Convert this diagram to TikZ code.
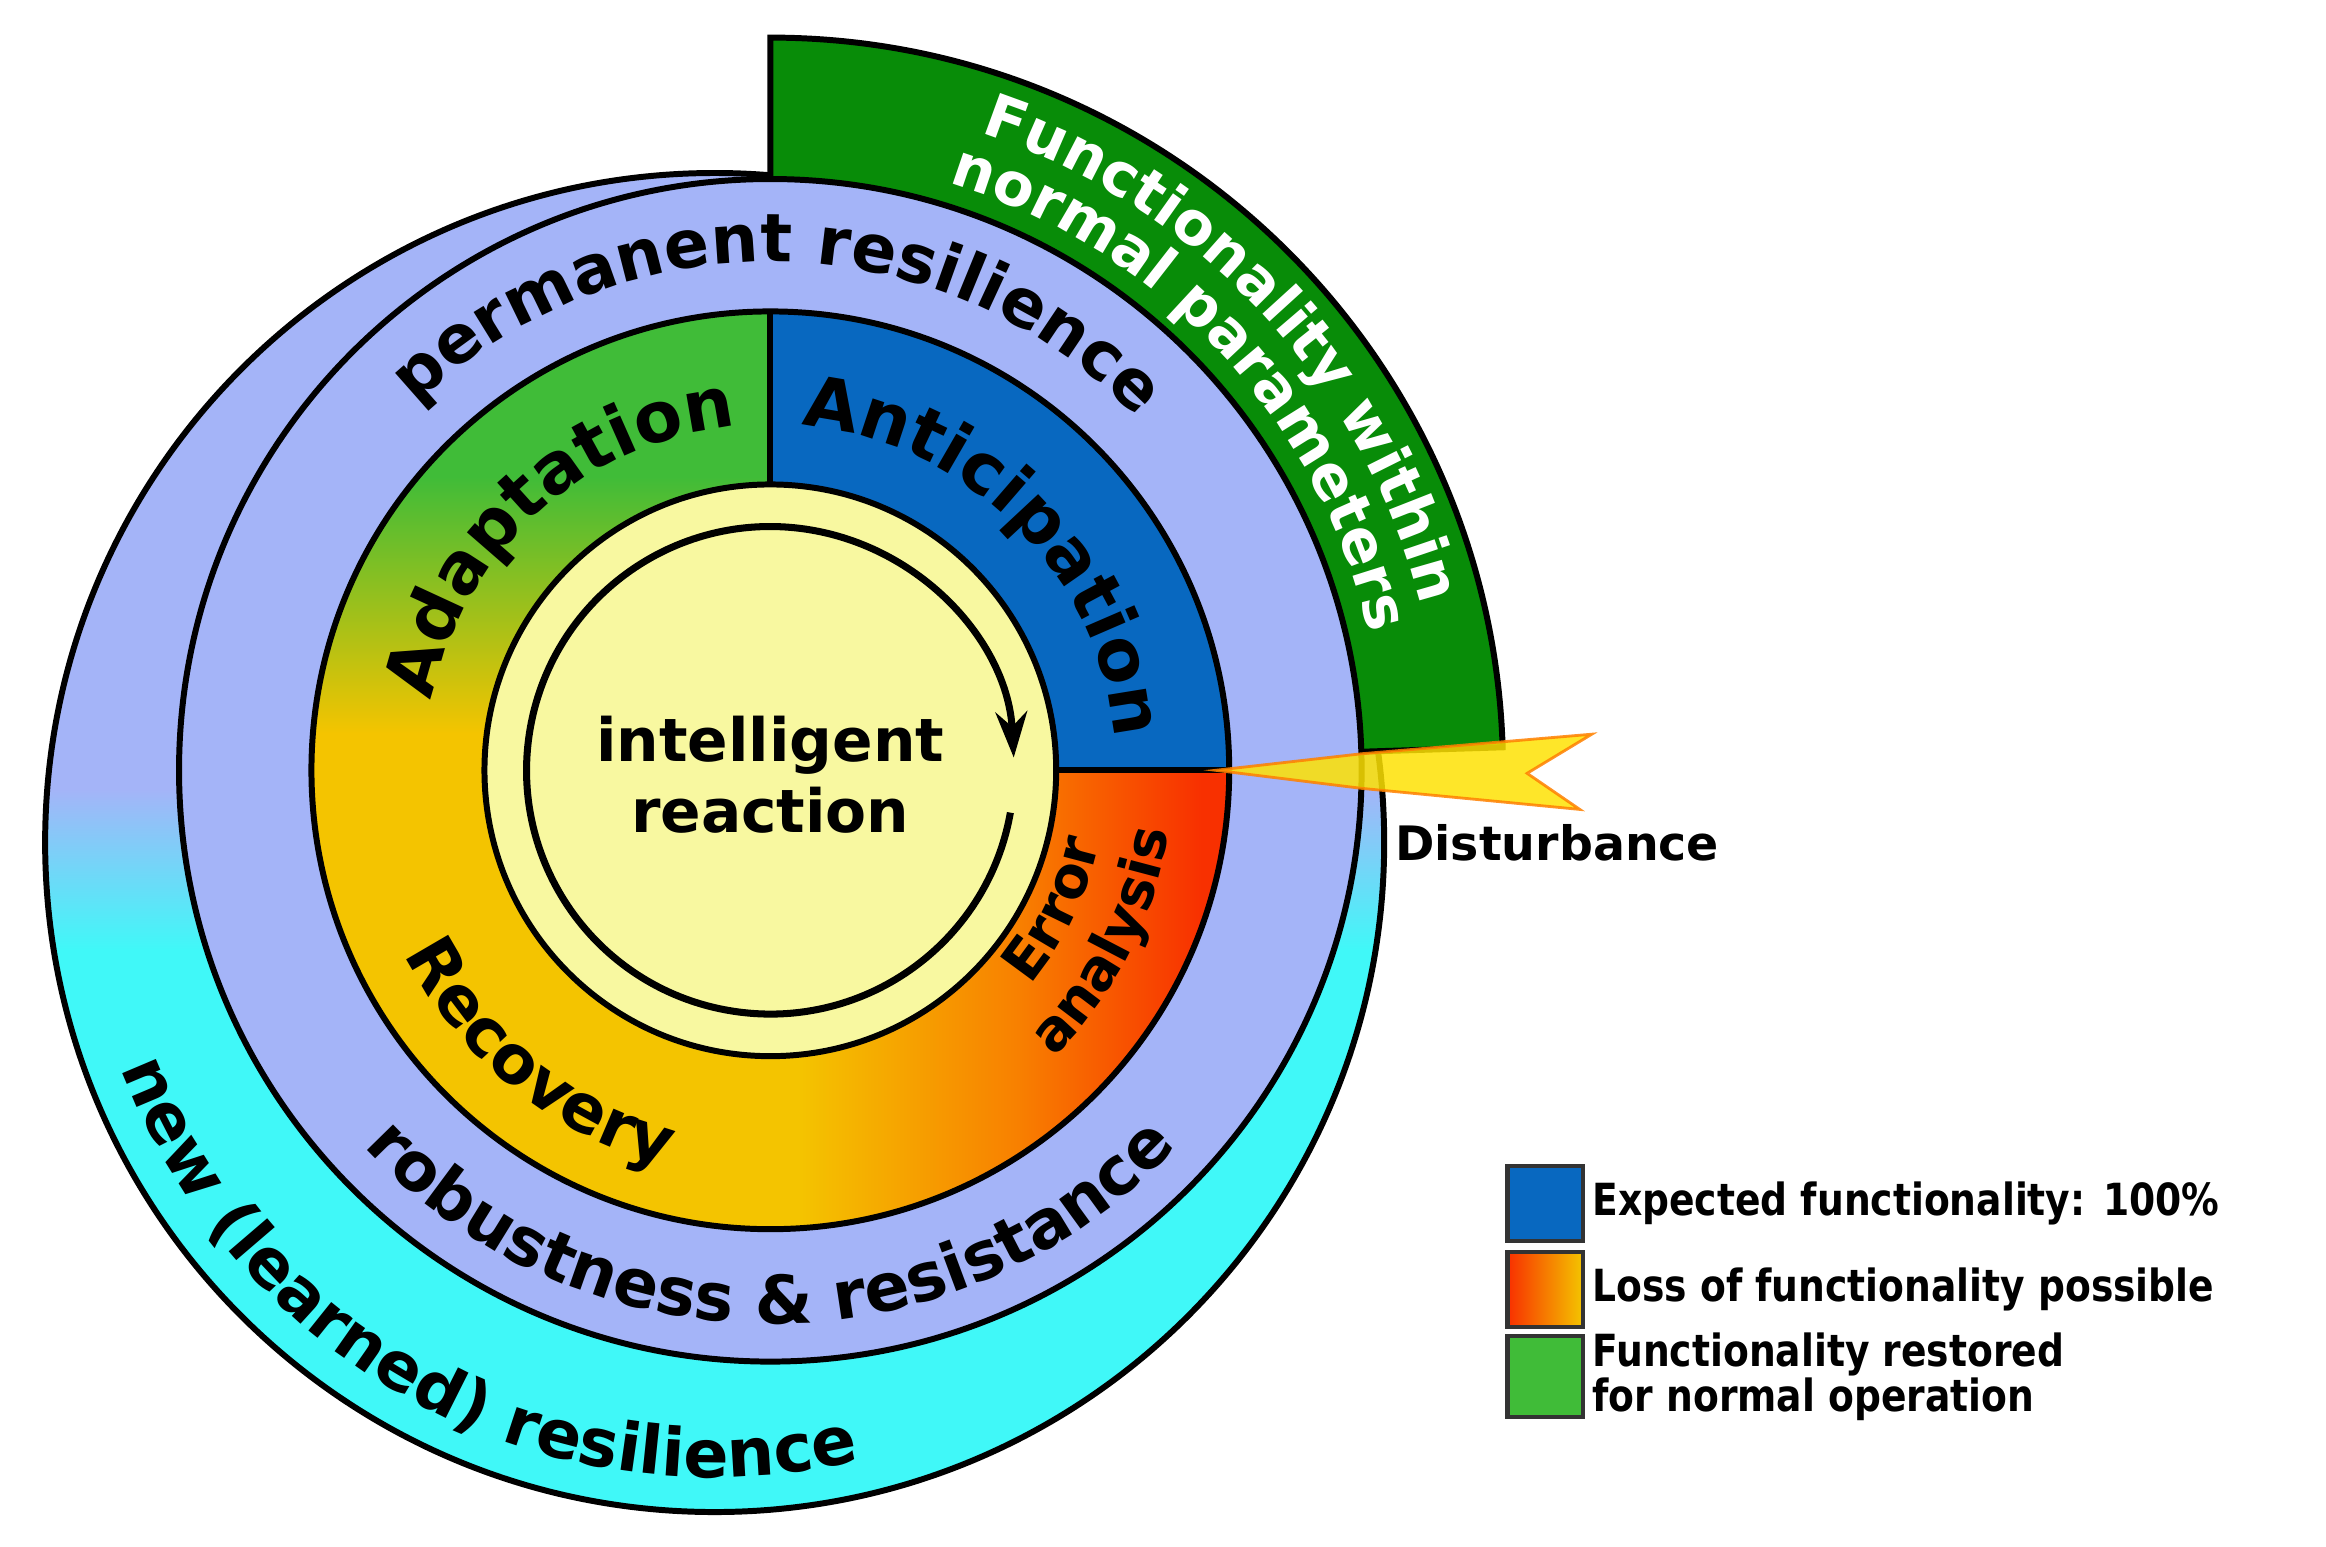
\documentclass[tikz,border=0pt]{standalone}
\usepackage{fontspec}
\setmainfont{DejaVu Sans}
\newfontfamily\condf{DejaVu Sans}[FakeStretch=0.85]
\usetikzlibrary{decorations.text,arrows.meta}
\definecolor{lav}{HTML}{A4B4F8}
\definecolor{cyanc}{HTML}{40F8F8}
\definecolor{gband}{HTML}{088C08}
\definecolor{bluec}{HTML}{0868C0}
\definecolor{yel}{HTML}{F4C400}
\definecolor{yel2}{HTML}{F8B400}
\definecolor{orng}{HTML}{F88000}
\definecolor{redc}{HTML}{F83000}
\definecolor{grn}{HTML}{40BC38}
\definecolor{innerc}{HTML}{F8F8A0}
\pgfdeclareverticalshading{outsh}{100bp}{color(0bp)=(cyanc); color(46bp)=(cyanc); color(52bp)=(lav); color(100bp)=(lav)}
\pgfdeclareverticalshading{greensh}{100bp}{color(0bp)=(yel); color(52bp)=(yel); color(66bp)=(grn); color(100bp)=(grn)}
\pgfdeclarehorizontalshading{redsh}{100bp}{color(0bp)=(yel); color(28bp)=(yel); color(52bp)=(orng); color(72bp)=(redc); color(100bp)=(redc)}
\newcommand{\bigf}{\fontsize{19}{22}\selectfont\bfseries}
\newcommand{\segf}{\fontsize{20}{24}\selectfont\bfseries}
\newcommand{\recf}{\fontsize{19}{23}\selectfont\bfseries}
\newcommand{\errf}{\fontsize{16}{19}\selectfont\bfseries}
\newcommand{\funf}{\fontsize{17}{20}\selectfont\bfseries}
\tikzset{
  outl/.style={draw=black,line width=1.7pt},
  arctext/.style={decorate,decoration={text along path,text align=center,text={#1}}},
  legbox/.style={draw=black!80,line width=1.2pt,minimum width=50*0.15045mm,inner sep=0pt},
  legtext/.style={anchor=west,font=\condf\fontsize{12.6}{13}\selectfont\bfseries,align=left,inner sep=0pt}
}
\begin{document}
\begin{tikzpicture}[x=0.15045mm,y=0.15045mm]
\useasboundingbox (0,0) rectangle (1546,1028);
\coordinate (C) at (512,516);
\coordinate (D) at (475,468);
% outer big circle
\shade[shading=outsh,outl] (D) circle[radius=445];
% green band
\fill[gband,outl] (C) -- ++(90:487) arc[start angle=90,end angle=1.8,radius=487] -- cycle;
% lavender circle
\fill[lav,outl] (C) circle[radius=393];
% middle ring
\fill[yel] (C) circle[radius=305];
\shade[shading=greensh] (C) -- ++(90:305) arc[start angle=90,end angle=270,radius=305] -- cycle;
\shade[shading=redsh] (C) -- ++(270:305) arc[start angle=270,end angle=360,radius=305] -- cycle;
\fill[bluec] (C) -- ++(0:305) arc[start angle=0,end angle=90,radius=305] -- cycle;
\draw[outl] (C) ++(0:305) -- (C) -- ++(90:305);
\draw[outl] (C) circle[radius=305];
% inner circle
\fill[innerc,outl] (C) circle[radius=190];
\draw[line width=2pt,-{Stealth[length=13pt,width=9pt]}] (C) ++(-10:162) arc[start angle=-10,end angle=-357,radius=162];
\node[font=\fontsize{17}{20}\selectfont\bfseries,align=center] (ir) at (512,513) {intelligent\\reaction};
% arc texts
\path[arctext={|\bigf|permanent resilience}] (C) ++(150:338) arc[start angle=150,end angle=28,radius=338];
\path[arctext={|\bigf|robustness {\&} resistance}] (C) ++(212:368) arc[start angle=212,end angle=328,radius=368];
\path[arctext={|\bigf|new (learned) resilience}] (D) ++(186:422) arc[start angle=186,end angle=298,radius=422];
\path[arctext={|\segf|Adaptation}] (C) ++(170:230) arc[start angle=170,end angle=94,radius=230];
\path[arctext={|\segf|Anticipation}] (C) ++(86:230) arc[start angle=86,end angle=4,radius=230];
\path[arctext={|\recf|Recovery}] (C) ++(200:272) arc[start angle=200,end angle=262,radius=272];
\path[arctext={|\errf|Error}] (C) ++(-46:224) arc[start angle=-46,end angle=-6,radius=224];
\path[arctext={|\errf|analysis}] (C) ++(-50:268) arc[start angle=-50,end angle=-4,radius=268];
\path[arctext={|\funf\color{white}|Functionality within}] (C) ++(78:446) arc[start angle=78,end angle=8,radius=446];
\path[arctext={|\funf\color{white}|normal parameters}] (C) ++(78:408) arc[start angle=78,end angle=8,radius=408];
% disturbance
\fill[yellow!85!orange,opacity=0.85,draw=orange,line width=0.8pt] (808,516) -- (905,527) -- (1058,540) -- (1015,514) -- (1050,490) -- (905,504) -- cycle;
\node[font=\fontsize{13.5}{16}\selectfont\bfseries] (dist) at (1035,468) {Disturbance};
% legend
\node[legbox,fill=bluec,minimum height=50*0.15045mm] (lb1) at (1027,228) {};
\shade[left color=redc,right color=yel,draw=black!80,line width=1.2pt] (1002,146) rectangle (1052,196);
\node[legbox,minimum height=54*0.15045mm,fill=grn] (lb3) at (1027,113) {};
\node[legtext] (lt1) at (1058,228) {Expected functionality: 100\%};
\node[legtext] (lt2) at (1058,171) {Loss of functionality possible};
\node[legtext] (lt3) at (1058,113) {Functionality restored\\for normal operation};
\end{tikzpicture}
\end{document}
